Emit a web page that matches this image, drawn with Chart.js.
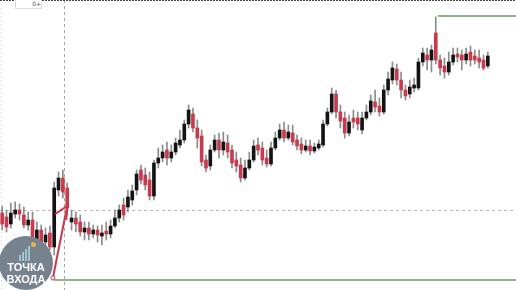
<!DOCTYPE html>
<html>
<head>
<meta charset="utf-8">
<script src="https://cdn.jsdelivr.net/npm/chart.js@4"></script>
<style>
  body { margin: 0; background: #fff; }
  #wrap { position: relative; width: 516px; height: 290px; overflow: hidden; }
  #tag { position: absolute; left: 15px; top: -1px; width: 25px; height: 8px; border: 1px solid #ddd;
         font: 6px "DejaVu Sans", sans-serif; color: #555; text-align: right; line-height: 7px; background: #fff; }
  #logo { position: absolute; left: -1px; top: 236px; width: 54px; height: 54px; border-radius: 50%;
          background: #76838f; color: #fff; font-family: "Liberation Sans", Arial, sans-serif; font-weight: 700; text-align: center; }
  #logo .t { position: absolute; left: 0; width: 54px; font-size: 11px; line-height: 12px; }
  #logo .b { position: absolute; bottom: 0; width: 2px; background: #9fc4cf; }
</style>
</head>
<body>
<div id="wrap">
  <canvas id="candles"></canvas>
  <div id="tag">0+</div>
  <div id="logo">
    <div style="position:absolute;left:20px;top:6px;width:16px;height:19px;">
      <div class="b" style="left:0;height:6px"></div>
      <div class="b" style="left:3px;height:9px"></div>
      <div class="b" style="left:6px;height:12px"></div>
      <div class="b" style="left:9px;height:15px"></div>
      <div style="position:absolute;left:12px;top:0;width:5px;height:5px;border-radius:50%;background:#e8b24a"></div>
    </div>
    <div class="t" style="top:25px">ТОЧКА</div>
    <div class="t" style="top:37px">ВХОДА</div>
  </div>
</div>
<script>
// цены свечей (открытие, закрытие, максимум, минимум)
var opens  = [77,73,66,76,80,75,65,70,47,60,48,57,43,100,112,102,68,72,68,58,62,56,60,54,59,56,64,72,85,83,90,100,120,115,110,94,127,132,140,132,
              138,145,150,166,176,162,154,130,124,140,150,140,147,140,130,125,112,122,130,145,142,132,126,142,152,160,152,157,150,146,140,144,139,142,145,166,178,196,178,172,
              157,172,172,160,172,178,188,184,178,200,210,221,210,200,196,202,202,228,235,230,257,230,224,218,228,236,235,230,238,234,232,230,224];
var closes = [66,63,77,80,76,65,70,47,60,48,55,43,102,112,98,82,72,66,58,62,56,60,55,57,56,64,72,80,75,93,99,116,110,105,94,127,132,138,132,138,
              147,150,166,180,162,152,128,122,140,150,140,148,138,127,124,112,122,130,144,140,130,126,142,152,160,152,158,148,144,140,144,139,143,146,166,178,196,178,169,157,
              168,168,166,172,178,189,183,178,200,211,222,210,200,194,203,205,228,237,230,240,230,222,218,228,235,233,230,236,230,230,228,222,234];
var highs  = [84,80,87,88,86,83,78,78,68,65,62,64,108,118,120,107,80,78,75,68,68,65,64,65,68,70,80,85,92,100,105,120,125,122,118,130,142,145,148,145,
              152,160,170,185,182,170,160,135,145,155,157,158,155,145,138,132,130,138,150,152,148,140,148,158,166,168,165,165,155,152,150,150,147,150,170,182,202,200,185,178,
              175,180,178,178,185,195,200,192,205,218,228,226,218,205,210,212,232,242,242,245,273,235,232,238,242,242,240,242,244,240,240,235,238];
var lows   = [60,58,62,72,70,62,60,42,43,45,44,40,35,94,92,75,60,58,54,50,50,52,48,45,50,52,62,68,70,78,85,95,106,100,90,90,122,128,125,128,
              135,142,147,162,158,142,124,118,120,138,132,135,132,122,118,108,110,120,128,135,125,123,124,140,150,148,150,145,140,136,138,135,137,140,143,164,176,172,162,152,
              154,162,160,156,170,175,178,174,176,195,206,205,192,190,192,198,200,224,220,218,226,215,212,215,225,228,220,226,224,226,222,220,222];
var emptySlots = 6; // пустое место справа от последней свечи

// уровни разметки
var topLevel = 274, topFrom = 100;
var bottomLevel = 10, bottomFrom = 12;
var dashLevel = 80;
var dashIndex = 14.25;
var arrowFrom = [11.7, 12], arrowTo = [15, 84];

var labels = [];
for (var i = 0; i < opens.length + emptySlots; i++) labels.push(i);

var wicks = [], bodies = [], colors = [];
for (var i = 0; i < opens.length; i++) {
    wicks.push([lows[i], highs[i]]);
    var c = closes[i];
    if (c == opens[i]) c = c + 1;
    bodies.push([opens[i], c]);
    colors.push(closes[i] >= opens[i] ? '#141414' : '#c93a4c');
}

var marks = {
    id: 'marks',
    beforeDatasetsDraw: function(chart) {
        var ctx = chart.ctx, x = chart.scales.x, y = chart.scales.y;
        var W = chart.width, H = chart.height;
        ctx.save();
        ctx.lineWidth = 1;
        ctx.strokeStyle = '#b8b8b8';
        ctx.setLineDash([3, 3]);
        var yy = Math.round(y.getPixelForValue(dashLevel)) + 0.5;
        ctx.beginPath(); ctx.moveTo(0, yy); ctx.lineTo(W, yy); ctx.stroke();
        var xx = Math.round(x.getPixelForValue(dashIndex)) + 0.5;
        ctx.strokeStyle = '#a8a8a8';
        ctx.beginPath(); ctx.moveTo(xx, 0); ctx.lineTo(xx, H); ctx.stroke();
        ctx.strokeStyle = '#d0d0d0';
        ctx.setLineDash([1, 3]);
        ctx.beginPath(); ctx.moveTo(1.5, 0); ctx.lineTo(1.5, H); ctx.stroke();
        ctx.setLineDash([]);
        ctx.strokeStyle = '#6f9c5f';
        ctx.lineWidth = 1.5;
        yy = y.getPixelForValue(topLevel);
        ctx.beginPath(); ctx.moveTo(x.getPixelForValue(topFrom) + 2, yy); ctx.lineTo(W, yy); ctx.stroke();
        yy = y.getPixelForValue(bottomLevel);
        ctx.beginPath(); ctx.moveTo(x.getPixelForValue(bottomFrom), yy); ctx.lineTo(W, yy); ctx.stroke();
        ctx.strokeStyle = '#444';
        ctx.lineWidth = 1;
        ctx.setLineDash([2, 1]);
        ctx.beginPath(); ctx.moveTo(0, 0.5); ctx.lineTo(W, 0.5); ctx.stroke();
        ctx.restore();
    },
    afterDatasetsDraw: function(chart) {
        var ctx = chart.ctx, x = chart.scales.x, y = chart.scales.y;
        var x0 = x.getPixelForValue(arrowFrom[0]), y0 = y.getPixelForValue(arrowFrom[1]);
        var x1 = x.getPixelForValue(arrowTo[0]), y1 = y.getPixelForValue(arrowTo[1]);
        ctx.save();
        ctx.strokeStyle = '#c93a4c';
        ctx.lineWidth = 2;
        ctx.beginPath(); ctx.moveTo(x0, y0); ctx.lineTo(x1, y1); ctx.stroke();
        ctx.beginPath(); ctx.moveTo(x1 - 12, y1 + 8); ctx.lineTo(x1, y1); ctx.lineTo(x1 - 1, y1 + 14); ctx.stroke();
        ctx.fillStyle = '#fff';
        ctx.lineWidth = 1;
        ctx.beginPath(); ctx.arc(x0, y0, 2, 0, Math.PI * 2); ctx.fill(); ctx.stroke();
        ctx.restore();
    }
};

var ctx = document.getElementById('candles');
var chart = new Chart(ctx, {
    type: 'bar',
    data: {
        labels: labels,
        datasets: [{
            data: bodies,
            backgroundColor: colors,
            barThickness: 3,
            grouped: false,
            order: 1
        }, {
            data: wicks,
            backgroundColor: '#8c8c8c',
            barThickness: 1,
            grouped: false,
            order: 2
        }]
    },
    options: {
        animation: false,
        responsive: true,
        maintainAspectRatio: false,
        layout: { padding: 0 },
        plugins: { legend: { display: false }, tooltip: { enabled: false } },
        scales: {
            x: { display: false },
            y: { display: false, min: 0, max: 290 }
        }
    },
    plugins: [marks]
});
</script>
</body>
</html>
